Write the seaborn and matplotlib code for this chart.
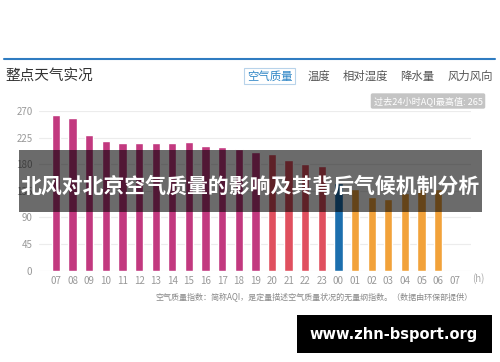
import pandas as pd
import seaborn as sns
import numpy as np
import matplotlib.pyplot as plt
from matplotlib.patches import Rectangle

hours = ['07', '08', '09', '10', '11', '12', '13', '14', '15', '16', '17', '18',
         '19', '20', '21', '22', '23', '00', '01', '02', '03', '04', '05', '06']
aqi = [263, 258, 230, 220, 216, 216, 216, 216, 217, 211, 209, 206,
       201, 197, 188, 181, 177, 149, 138, 125, 121, 131, 138, 138]
tick_labels = hours + ['07']
yticks = [0, 45, 90, 135, 180, 225, 270]
tabs = ['空气质量', '温度', '相对湿度', '降水量', '风力风向']

def bar_color(h, v):
    if h == '00':
        return '#1c6fae'
    if v > 200:
        return '#c2397f'
    if v > 150:
        return '#e0505f'
    return '#f2a23a'

sns.set_theme(style='white')
plt.rcParams['font.family'] = ['Noto Sans CJK SC', 'DejaVu Sans']

W, H = 500, 362
fig = plt.figure(figsize=(5, 3.62), dpi=100)
fig.patch.set_facecolor('white')

def px(x, y):
    return x / W, 1 - y / H

# header
fig.add_artist(plt.Line2D([4 / W, 495 / W], [1 - 59 / H] * 2, color='#2f7cc1', lw=1.5))
fig.text(*px(5, 77), '整点天气实况', fontsize=10.5, color='#333333', va='center')
tab_x = [244, 305, 340, 397, 445]
for i, (t, x) in enumerate(zip(tabs, tab_x)):
    c = '#2f86c6' if i == 0 else '#555555'
    bb = dict(boxstyle='square,pad=0.25', fc='white', ec='#b8d3ea', lw=0.8) if i == 0 else None
    fig.text(*px(x + 3, 76), t, fontsize=8.2, color=c, va='center', bbox=bb)
fig.text(*px(428, 101), '过去24小时AQI最高值: 265', fontsize=6.6, color='white',
         ha='center', va='center',
         bbox=dict(boxstyle='round,pad=0.3,rounding_size=0.2', fc='#c4c4c4', ec='none'))

# chart
ax = fig.add_axes([39.4 / W, 1 - 270.7 / H, 432 / W, 159.7 / H])
df = pd.DataFrame({'hour': hours, 'aqi': aqi})
pal = {h: bar_color(h, v) for h, v in zip(hours, aqi)}
sns.barplot(data=df, x='hour', y='aqi', hue='hour', palette=pal, legend=False,
            width=0.5, saturation=1, ax=ax, zorder=2)
ax.set_xlim(-1, len(tick_labels))
ax.set_ylim(0, 270)
ax.set_xticks(range(len(tick_labels)))
ax.set_xticklabels(tick_labels)
ax.set_yticks(yticks)
for y in yticks:
    ax.axhline(y, color='#ececec', lw=0.8, zorder=0)
ax.tick_params(axis='both', length=0, labelsize=7, labelcolor='#999999', pad=4)
ax.tick_params(axis='y', pad=5)
ax.set_xlabel('')
ax.set_ylabel('')
sns.despine(ax=ax, left=True, bottom=True)
ax.set_facecolor('none')
fig.text(*px(472, 279), '(h)', fontsize=7, color='#aaaaaa', va='center')

fig.text(*px(473, 297), '空气质量指数：简称AQI，是定量描述空气质量状况的无量纲指数。（数据由环保部提供）',
         fontsize=5.8, color='#888888', ha='right', va='center')

# banner
fig.add_artist(Rectangle(px(19, 212), 463 / W, 62 / H, transform=fig.transFigure,
                         fc='black', alpha=0.58, ec='none'))
fig.text(*px(250, 186), '北风对北京空气质量的影响及其背后气候机制分析', fontsize=15,
         fontweight='bold', color='white', ha='center', va='center')

# site tag
fig.add_artist(Rectangle(px(297, 353), 195 / W, 38 / H, transform=fig.transFigure,
                         fc='black', ec='none'))
fig.text(*px(394, 334), 'www.zhn-bsport.org', fontsize=10.5, fontweight='bold',
         color='white', ha='center', va='center', family='DejaVu Sans')

fig.savefig('out.png', dpi=100)
